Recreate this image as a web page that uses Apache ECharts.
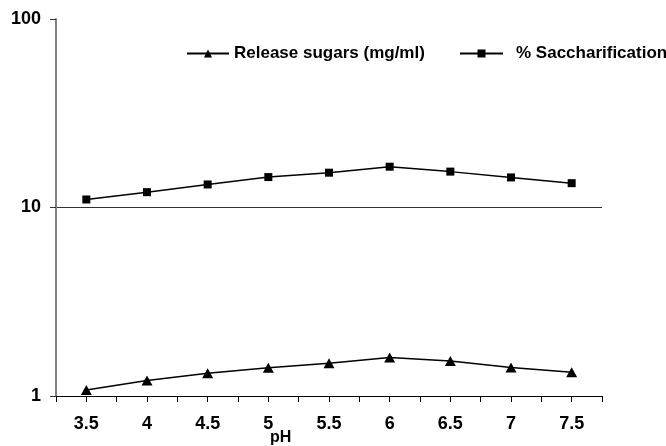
<!DOCTYPE html>
<html>
<head>
<meta charset="utf-8">
<script src="https://cdn.jsdelivr.net/npm/echarts@6/dist/echarts.min.js"></script>
<style>html,body{margin:0;padding:0;background:#fff;}#c{width:666px;height:446px;}</style>
</head>
<body>
<div id="c"></div>
<script>
var categories = ['3.5','4','4.5','5','5.5','6','6.5','7','7.5'];
var releaseSugars = [1.076, 1.21, 1.32, 1.414, 1.493, 1.60, 1.535, 1.418, 1.337];
var saccharification = [11.03, 12.06, 13.25, 14.5, 15.3, 16.46, 15.5, 14.44, 13.46];
var yTickLabels = ['1','10','100'];
var xName = 'pH';
var seriesNames = ['Release sugars (mg/ml)', '% Saccharification'];

var FONT = '"Liberation Sans", Arial, sans-serif';
var chart = echarts.init(document.getElementById('c'), null, {renderer: 'canvas'});
chart.setOption({
  animation: false,
  backgroundColor: '#fff',
  title: {
    text: xName, left: 265, top: 425,
    textStyle: {fontFamily: FONT, fontWeight: 'bold', fontSize: 16, color: '#000'}
  },
  legend: [{
    data: [seriesNames[0]], left: 186, top: 45, padding: 0,
    itemWidth: 42, itemHeight: 10,
    textStyle: {fontFamily: FONT, fontWeight: 'bold', fontSize: 17, color: '#000'}
  }, {
    data: [seriesNames[1]], left: 459, top: 45, padding: 0,
    itemWidth: 43, itemHeight: 10,
    textStyle: {fontFamily: FONT, fontWeight: 'bold', fontSize: 17, color: '#000', padding: [0,0,0,8]}
  }],
  grid: {left: 56, right: 64, top: 19, bottom: 50},
  xAxis: [{
    type: 'category', data: categories, boundaryGap: true,
    axisLine: {lineStyle: {color: '#000', width: 1}},
    axisTick: {show: false},
    axisLabel: {fontFamily: FONT, fontWeight: 'bold', fontSize: 18, color: '#000', margin: 19},
    splitLine: {show: false}
  }, {
    type: 'value', min: 3.25, max: 7.75, interval: 0.25, position: 'bottom',
    axisLine: {show: false},
    axisTick: {show: true, length: 6, lineStyle: {color: '#000', width: 1}},
    axisLabel: {show: false},
    splitLine: {show: false}
  }],
  yAxis: {
    type: 'log', logBase: 10, min: 1, max: 100,
    axisLine: {show: true, lineStyle: {color: '#808080', width: 2}},
    axisTick: {show: true, length: 6, lineStyle: {color: '#333', width: 1}},
    axisLabel: {
      fontFamily: FONT, fontWeight: 'bold', fontSize: 18, color: '#000', margin: 15,
      formatter: function (v) {
        var i = Math.round(Math.log10(v));
        return yTickLabels[i] !== undefined ? yTickLabels[i] : '';
      }
    },
    splitLine: {
      show: true,
      lineStyle: {color: '#333', width: 1},
      showMinLine: false, showMaxLine: false
    },
    minorTick: {show: false}
  },
  series: [{
    name: seriesNames[0], type: 'line', data: releaseSugars,
    symbol: 'triangle', symbolSize: [11, 10],
    lineStyle: {color: '#000', width: 1.5},
    itemStyle: {color: '#000'}
  }, {
    name: seriesNames[1], type: 'line', data: saccharification,
    symbol: 'rect', symbolSize: 8,
    lineStyle: {color: '#000', width: 1.5},
    itemStyle: {color: '#000'}
  }]
});
</script>
</body>
</html>
